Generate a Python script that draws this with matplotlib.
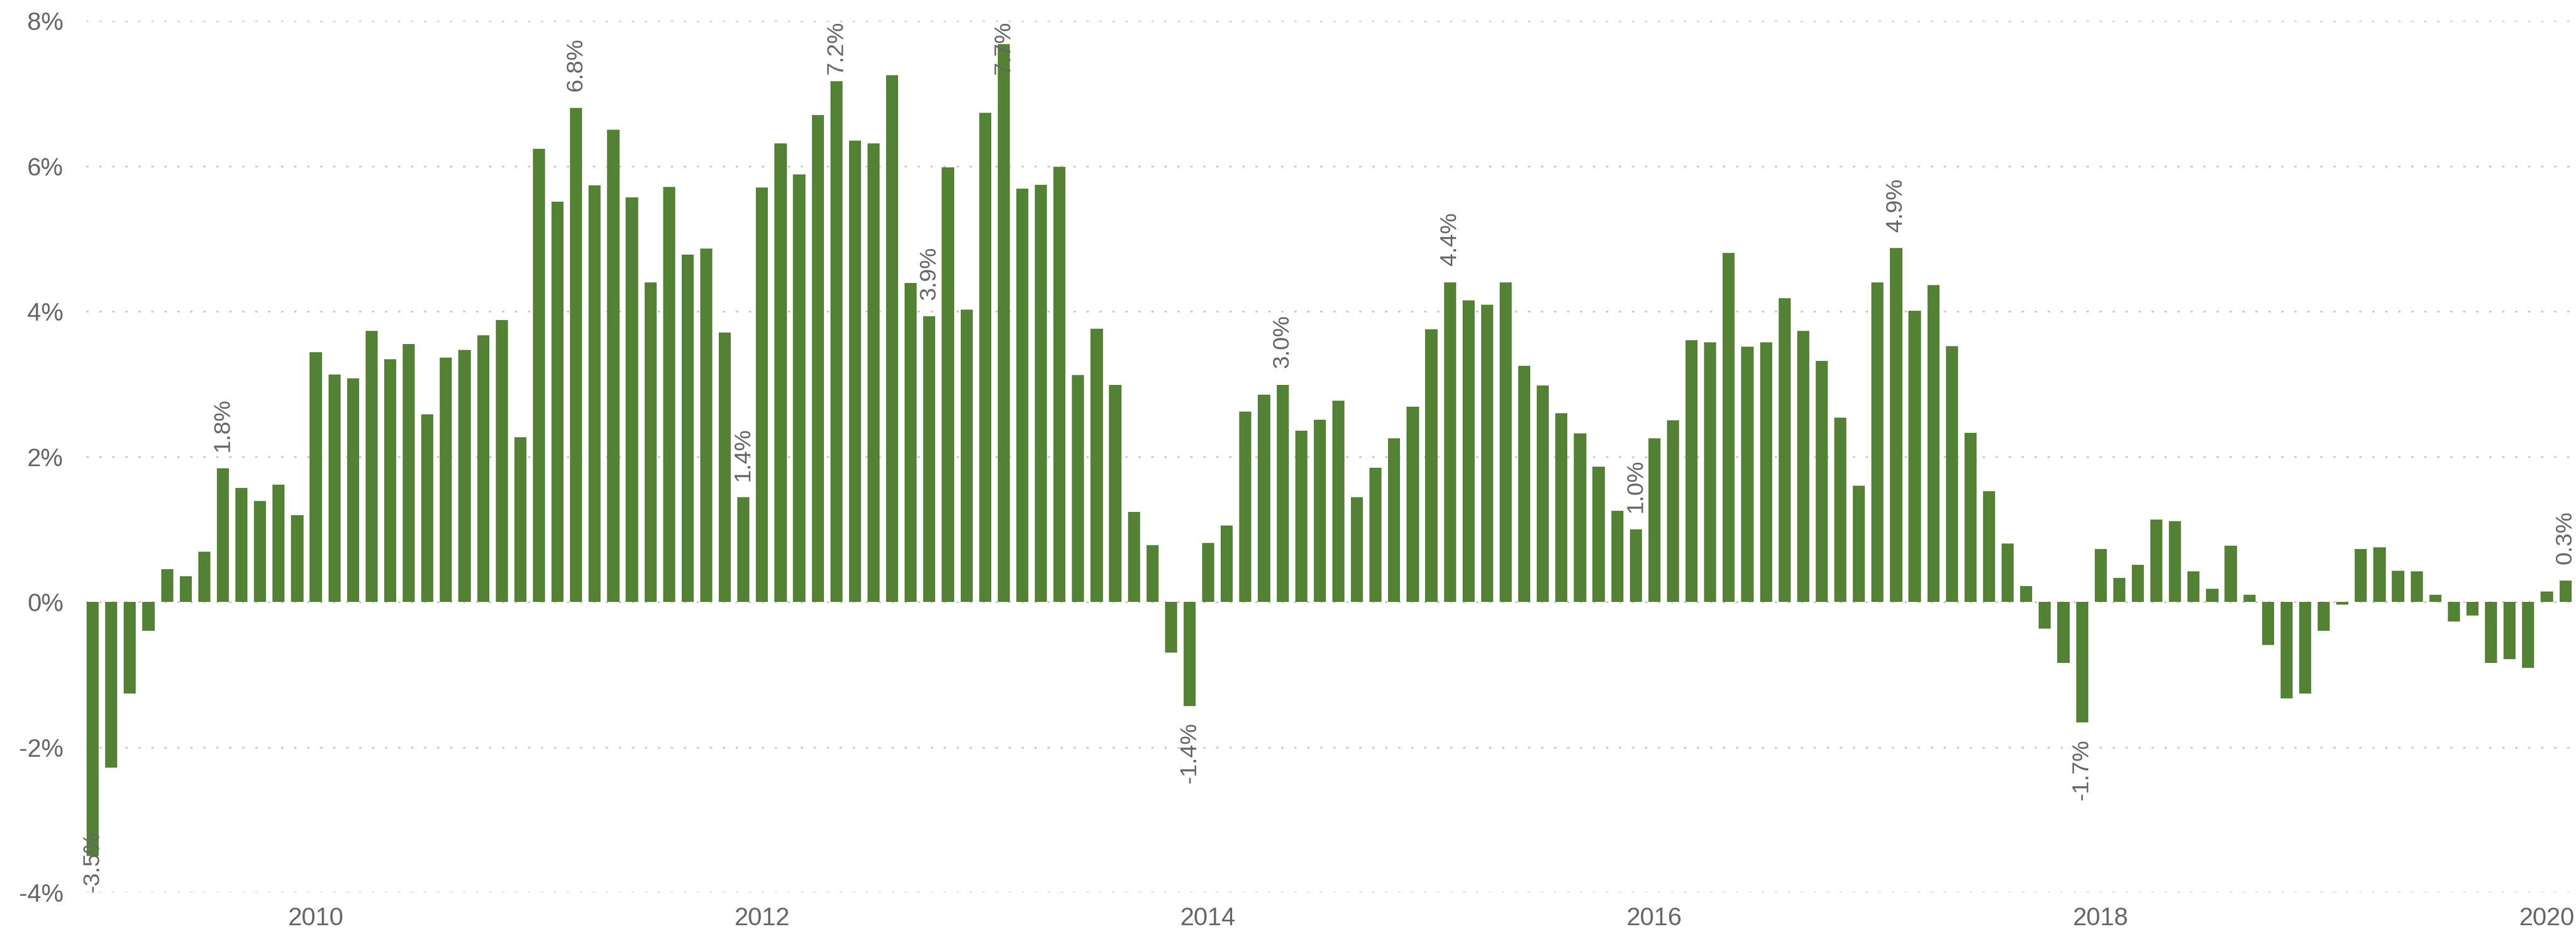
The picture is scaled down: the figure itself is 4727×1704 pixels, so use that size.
# monthly growth rate bar chart, Jan 2009 - Feb 2020
import numpy as np
import pandas as pd
import matplotlib
matplotlib.use('Agg')
import matplotlib.pyplot as plt

months = pd.date_range('2009-01-01', periods=134, freq='MS')

# year-on-year change in %, one value per month
growth = [
    -3.50, -2.28, -1.26, -0.40, 0.45, 0.35, 0.69, 1.84, 1.57, 1.39, 1.61, 1.19,   # 2009
    3.44, 3.13, 3.08, 3.73, 3.34, 3.55, 2.58, 3.36, 3.47, 3.67, 3.88, 2.27,       # 2010
    6.24, 5.51, 6.80, 5.73, 6.50, 5.57, 4.40, 5.71, 4.78, 4.86, 3.71, 1.44,       # 2011
    5.70, 6.31, 5.88, 6.70, 7.17, 6.35, 6.31, 7.25, 4.39, 3.93, 5.98, 4.02,       # 2012
    6.73, 7.68, 5.69, 5.74, 5.99, 3.12, 3.76, 2.99, 1.24, 0.78, -0.70, -1.43,     # 2013
    0.81, 1.05, 2.62, 2.85, 2.99, 2.36, 2.51, 2.77, 1.44, 1.85, 2.25, 2.69,       # 2014
    3.75, 4.40, 4.15, 4.09, 4.40, 3.25, 2.98, 2.60, 2.32, 1.86, 1.25, 1.00,       # 2015
    2.25, 2.50, 3.60, 3.57, 4.80, 3.51, 3.57, 4.18, 3.73, 3.32, 2.54, 1.60,       # 2016
    4.40, 4.87, 4.01, 4.36, 3.52, 2.33, 1.52, 0.80, 0.22, -0.37, -0.84, -1.66,    # 2017
    0.73, 0.33, 0.51, 1.13, 1.11, 0.42, 0.18, 0.77, 0.10, -0.59, -1.33, -1.26,    # 2018
    -0.40, -0.04, 0.73, 0.75, 0.43, 0.42, 0.10, -0.27, -0.19, -0.84, -0.79, -0.91,  # 2019
    0.14, 0.29,                                                                   # 2020
]

# months that get a value label
labelled = [0, 7, 26, 35, 40, 45, 49, 59, 64, 73, 83, 97, 107, 133]

tick_years = [2010, 2012, 2014, 2016, 2018, 2020]
y_ticks = [-4, -2, 0, 2, 4, 6, 8]

bar_color = '#548235'
text_color = '#666666'
grid_color = '#c8c8c8'

plt.rcParams['font.family'] = ['Liberation Sans', 'DejaVu Sans']

fig = plt.figure(figsize=(47.27, 17.04), dpi=100)
ax = fig.add_axes([0.0334, 0.0393, 0.9651, 0.9384])

x = np.arange(len(growth))
ax.bar(x, growth, width=0.65, color=bar_color, zorder=2)

# y axis: percentages with dotted grid
ax.set_ylim(y_ticks[0], y_ticks[-1])
ax.set_yticks(y_ticks)
ax.set_yticklabels([f'{t}%' for t in y_ticks])
ax.yaxis.grid(True, color=grid_color, linewidth=2.2, linestyle=(0, (1.4, 6.4)))
ax.set_axisbelow(True)

# x axis: label January of every other year
ticks = [i for i, m in enumerate(months) if m.month == 1 and m.year in tick_years]
ax.set_xticks(ticks)
ax.set_xticklabels([str(months[i].year) for i in ticks])
ax.set_xlim(-0.36, len(growth) - 1 + 0.36)

ax.tick_params(length=0, labelsize=33, labelcolor=text_color)
ax.tick_params(axis='y', pad=30)
ax.tick_params(axis='x', pad=19)
for s in ax.spines.values():
    s.set_visible(False)

# value labels, kept inside the plot area
fig.canvas.draw()
renderer = fig.canvas.get_renderer()
axbb = ax.get_window_extent(renderer)
off = 22
for i in labelled:
    v = growth[i]
    if v >= 0:
        t = ax.annotate(f'{v:.1f}%', (i, v), xytext=(0, off), textcoords='offset points',
                        rotation=90, ha='center', va='bottom', fontsize=31, color=text_color)
    else:
        t = ax.annotate(f'{v:.1f}%', (i, v), xytext=(0, -off), textcoords='offset points',
                        rotation=90, ha='center', va='top', fontsize=31, color=text_color)
    bb = t.get_window_extent(renderer)
    if bb.y1 > axbb.y1:
        t.xyann = (0, off - (bb.y1 - axbb.y1) * 72 / fig.dpi)
    elif bb.y0 < axbb.y0:
        t.xyann = (0, -off + (axbb.y0 - bb.y0) * 72 / fig.dpi)

plt.savefig('out.png', dpi=100)
